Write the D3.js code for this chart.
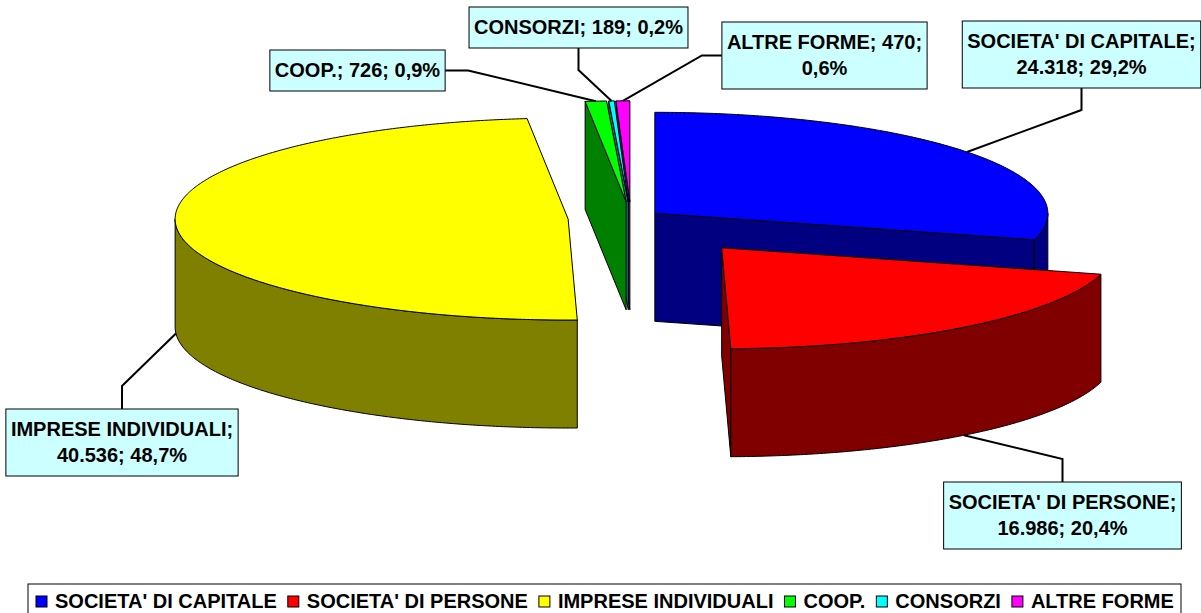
<!DOCTYPE html>
<html>
<head>
<meta charset="utf-8">
<script src="https://cdn.jsdelivr.net/npm/d3@7"></script>
<style>
  body { margin: 0; background: #fff; }
  svg { display: block; }
  text { font-family: "Liberation Sans", Arial, sans-serif; font-weight: bold; fill: #000; }
</style>
</head>
<body>
<svg width="1201" height="613"></svg>
<script>
// Data
const categories = ["SOCIETA' DI CAPITALE", "SOCIETA' DI PERSONE", "IMPRESE INDIVIDUALI", "COOP.", "CONSORZI", "ALTRE FORME"];
const counts = [24318, 16986, 40536, 726, 189, 470];
const topColors = ["#0000ff", "#ff0000", "#ffff00", "#00ff00", "#00ffff", "#ff00ff"];
const sideColors = ["#000080", "#800000", "#808000", "#008000", "#008080", "#800080"];

// Pie geometry
const cx = 631, cy = 218, rx = 393, ry = 101, depth = 108;
const explode = [30, 147, 63, 63, 63, 63];

// Label boxes: centre x, top, side the leader leaves from, words kept on line 1
const labelCx = [1081.5, 1062.5, 122, 357.5, 578.5, 824.5];
const labelTop = [21, 482, 409, 50, 7, 22];
const labelSide = ["bottom", "top", "top", "right", "bottom", "left"];
const labelBreak = ["name", "name", "name", "none", "none", "count"];

const it = d3.formatLocale({decimal: ",", thousands: ".", grouping: [3], currency: ["€", ""]});
const fmtCount = it.format(",d");
const fmtPct = it.format(".1%");

const svg = d3.select("svg");
const total = d3.sum(counts);

const arcs = d3.pie().sort(null).startAngle(0).endAngle(2 * Math.PI)(counts)
  .map((a, i) => {
    const mid = (a.startAngle + a.endAngle) / 2;
    const e = explode[i];
    const apex = [cx + e * Math.sin(mid), cy - e * (ry / rx) * Math.cos(mid)];
    return {i, a0: a.startAngle, a1: a.endAngle, mid, apex};
  });

const rim = (apex, t, dz) => [apex[0] + rx * Math.sin(t), apex[1] - ry * Math.cos(t) + dz];
const arcPts = (apex, t0, t1, dz) => {
  const n = Math.max(2, Math.ceil(Math.abs(t1 - t0) / 0.01));
  return d3.range(n + 1).map(k => rim(apex, t0 + (t1 - t0) * k / n, dz));
};
const poly = d3.line().curve(d3.curveLinearClosed);

// back to front
const order = arcs.slice().sort((p, q) =>
  (p.apex[1] - 0.5 * ry * Math.cos(p.mid)) - (q.apex[1] - 0.5 * ry * Math.cos(q.mid)));

const pie = svg.append("g");
order.forEach(s => {
  const g = pie.append("g");
  const faces = [];
  // radial cut faces
  [[s.a0, s.a0 - Math.PI / 2], [s.a1, s.a1 + Math.PI / 2]].forEach(([t, n]) => {
    if (-Math.cos(n) > 1e-6) {
      faces.push([s.apex, rim(s.apex, t, 0), rim(s.apex, t, depth), [s.apex[0], s.apex[1] + depth]]);
    }
  });
  // outer side, front half only
  const lo = Math.max(s.a0, Math.PI / 2), hi = Math.min(s.a1, 3 * Math.PI / 2);
  if (hi > lo) {
    faces.push(arcPts(s.apex, lo, hi, 0).concat(arcPts(s.apex, hi, lo, depth)));
  }
  g.selectAll("path.side")
    .data(faces)
    .join("path")
      .attr("class", "side")
      .attr("d", poly)
      .attr("fill", sideColors[s.i])
      .attr("stroke", "#000")
      .attr("stroke-width", 1)
      .attr("stroke-linejoin", "round");
  g.append("path")
    .attr("d", poly([s.apex].concat(arcPts(s.apex, s.a0, s.a1, 0))))
    .attr("fill", topColors[s.i])
    .attr("stroke", "#000")
    .attr("stroke-width", 1)
    .attr("stroke-linejoin", "round");
});

// Data labels
const labels = svg.append("g");
arcs.forEach(s => {
  const i = s.i;
  const name = categories[i], cnt = fmtCount(counts[i]), pct = fmtPct(counts[i] / total);
  let lines;
  if (labelBreak[i] === "name") lines = [name + ";", cnt + "; " + pct];
  else if (labelBreak[i] === "count") lines = [name + "; " + cnt + ";", pct];
  else lines = [name + "; " + cnt + "; " + pct];

  const g = labels.append("g");
  const rect = g.append("rect");
  const txt = g.selectAll("text")
    .data(lines)
    .join("text")
      .attr("x", labelCx[i])
      .attr("y", (d, k) => labelTop[i] + 27 + 26 * k)
      .attr("text-anchor", "middle")
      .attr("font-size", 20)
      .text(d => d);
  const w = d3.max(txt.nodes(), n => n.getComputedTextLength()) + 10;
  const h = 26 * lines.length + 15;
  const x0 = labelCx[i] - w / 2, y0 = labelTop[i];
  rect.attr("x", x0).attr("y", y0).attr("width", w).attr("height", h)
    .attr("fill", "#ccffff").attr("stroke", "#000").attr("stroke-width", 1);

  // leader line
  const front = Math.cos(s.mid) < 0;
  const anchor = rim(s.apex, s.mid, front ? depth : 0);
  let start, elbow;
  const side = labelSide[i];
  if (side === "bottom") { start = [labelCx[i], y0 + h]; elbow = [labelCx[i], y0 + h + 22]; }
  else if (side === "top") { start = [labelCx[i], y0]; elbow = [labelCx[i], y0 - 23]; }
  else if (side === "right") { start = [x0 + w, y0 + h / 2]; elbow = [x0 + w + 23, y0 + h / 2]; }
  else { start = [x0, y0 + h / 2]; elbow = [x0 - 20, y0 + h / 2]; }
  labels.insert("path", ":first-child")
    .attr("d", d3.line()([start, elbow, anchor]))
    .attr("fill", "none")
    .attr("stroke", "#000")
    .attr("stroke-width", 2);
});

// Legend
const legend = svg.append("g");
const legendBox = legend.append("rect")
  .attr("x", 28).attr("y", 584).attr("width", 1153).attr("height", 34)
  .attr("fill", "#fff").attr("stroke", "#000").attr("stroke-width", 1);
let lx = 36;
categories.forEach((c, i) => {
  legend.append("rect")
    .attr("x", lx).attr("y", 596).attr("width", 11).attr("height", 11)
    .attr("fill", topColors[i]).attr("stroke", "#000").attr("stroke-width", 1);
  const t = legend.append("text")
    .attr("x", lx + 19).attr("y", 608)
    .attr("font-size", 20)
    .text(c);
  lx += 19 + t.node().getComputedTextLength() + 11;
});
</script>
</body>
</html>
